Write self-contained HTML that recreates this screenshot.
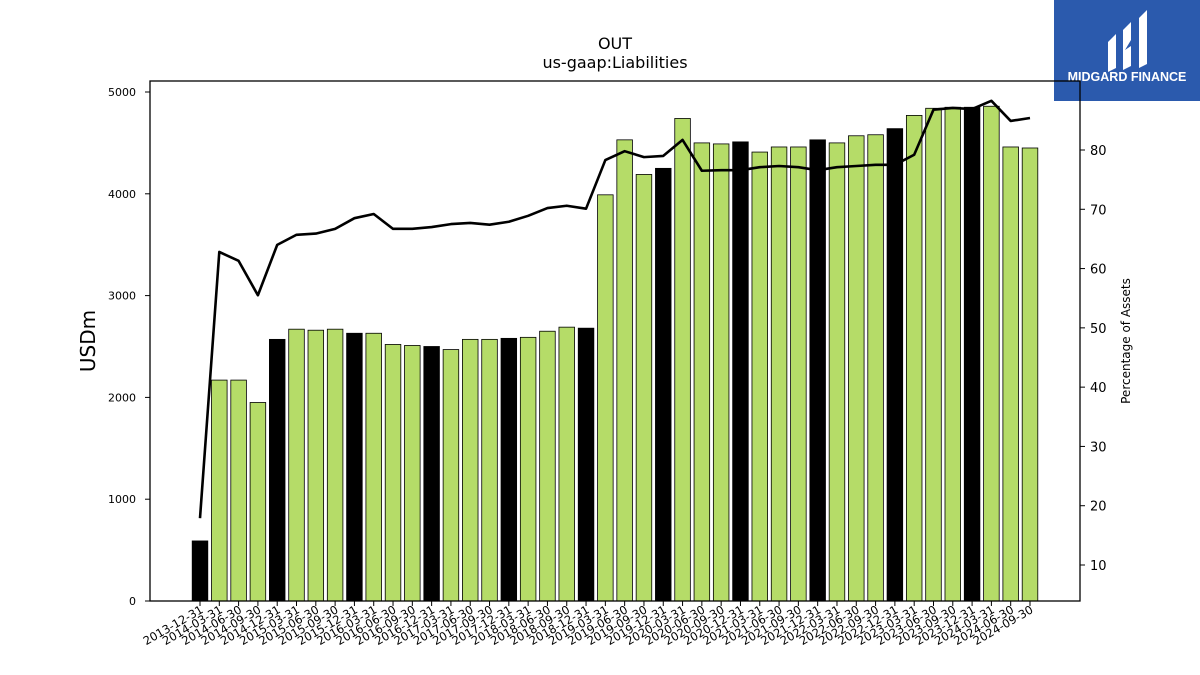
<!DOCTYPE html>
<html><head><meta charset="utf-8"><style>
body{margin:0;background:#fff;font-family:"DejaVu Sans","Liberation Sans",sans-serif}
svg{display:block}
</style></head><body>
<svg id="chart" width="1200" height="675" xmlns="http://www.w3.org/2000/svg">
<text x="615" y="49" text-anchor="middle" font-size="16">OUT</text>
<text x="615" y="68" text-anchor="middle" font-size="16">us-gaap:Liabilities</text>
<g>
<rect x="1054" y="0" width="146" height="101" fill="#2b5aad"/>
<path d="M1108 42 L1116 34 L1116 68 L1108 72 Z" fill="#fff"/>
<path d="M1123 30 L1131 22 L1131 40 L1125 50 L1131 46 L1131 66 L1123 70 Z" fill="#fff"/>
<path d="M1139 18 L1147 10 L1147 64 L1139 68 Z" fill="#fff"/>
<text x="1127" y="81" text-anchor="middle" font-size="12.5" font-weight="bold" fill="#fff" font-family="Liberation Sans, sans-serif">MIDGARD FINANCE</text>
</g>
<g id="plot"></g>
<rect x="150" y="81" width="930" height="520" fill="none" stroke="#000" stroke-width="1.3"/>
<text transform="translate(95,341) rotate(-90)" text-anchor="middle" font-size="20">USDm</text>
<text transform="translate(1130,341) rotate(-90)" text-anchor="middle" font-size="12">Percentage of Assets</text>
</svg>
<script>
const dates=["2013-12-31","2014-03-31","2014-06-30","2014-09-30","2014-12-31","2015-03-31","2015-06-30","2015-09-30","2015-12-31","2016-03-31","2016-06-30","2016-09-30","2016-12-31","2017-03-31","2017-06-30","2017-09-30","2017-12-31","2018-03-31","2018-06-30","2018-09-30","2018-12-31","2019-03-31","2019-06-30","2019-09-30","2019-12-31","2020-03-31","2020-06-30","2020-09-30","2020-12-31","2021-03-31","2021-06-30","2021-09-30","2021-12-31","2022-03-31","2022-06-30","2022-09-30","2022-12-31","2023-03-31","2023-06-30","2023-09-30","2023-12-31","2024-03-31","2024-06-30","2024-09-30"];
const liabilities=[590,2170,2170,1950,2570,2670,2660,2670,2630,2630,2520,2510,2500,2470,2570,2570,2580,2590,2650,2690,2680,3990,4530,4190,4250,4740,4500,4490,4510,4410,4460,4460,4530,4500,4570,4580,4640,4770,4840,4850,4850,4860,4460,4450];
const pctAssets=[17.9,62.8,61.3,55.5,64,65.7,65.9,66.7,68.5,69.2,66.7,66.7,67,67.5,67.7,67.4,67.9,68.9,70.2,70.6,70.1,78.3,79.8,78.8,79,81.7,76.5,76.6,76.6,77.1,77.3,77.1,76.6,77.1,77.3,77.5,77.5,79.2,86.8,87.1,86.9,88.3,84.9,85.4];
const leftTicks=[0,1000,2000,3000,4000,5000];
const rightTicks=[10,20,30,40,50,60,70,80];
const NS="http://www.w3.org/2000/svg";
const g=document.getElementById("plot");
const xs=i=>200+i*(1030-200)/(dates.length-1);
const yL=v=>601-v*(601-92)/5000;
const yR=v=>565-(v-10)*(565-150)/70;
function mk(t,a,p){const e=document.createElementNS(NS,t);for(const k in a)e.setAttribute(k,a[k]);(p||g).appendChild(e);return e;}
liabilities.forEach((v,i)=>{
 const r=mk("rect",{x:xs(i)-7.8,y:yL(v),width:15.6,height:601-yL(v),fill:dates[i].endsWith("12-31")?"#000":"#b5dc68",stroke:"#000","stroke-width":0.8});
 
 
 mk("line",{x1:xs(i),x2:xs(i),y1:601,y2:606,stroke:"#000"});
 const t=mk("text",{transform:`translate(${xs(i)+4},${612}) rotate(-30)`,"text-anchor":"end","font-size":11.5});
 t.textContent=dates[i];
 
 
});
leftTicks.forEach(v=>{
 mk("line",{x1:145,x2:150,y1:yL(v),y2:yL(v),stroke:"#000"});
 const t=mk("text",{x:136,y:yL(v)+4,"text-anchor":"end","font-size":11});
 t.textContent=v;
 
 
});
rightTicks.forEach(v=>{
 mk("line",{x1:1080,x2:1085,y1:yR(v),y2:yR(v),stroke:"#000"});
 const t=mk("text",{x:1090,y:yR(v)+5,"font-size":13});
 t.textContent=v;
 
 
});
const l=mk("polyline",{points:pctAssets.map((v,i)=>xs(i)+","+yR(v)).join(" "),fill:"none",stroke:"#000","stroke-width":2.6,"stroke-linejoin":"round"});


</script>
</body></html>
